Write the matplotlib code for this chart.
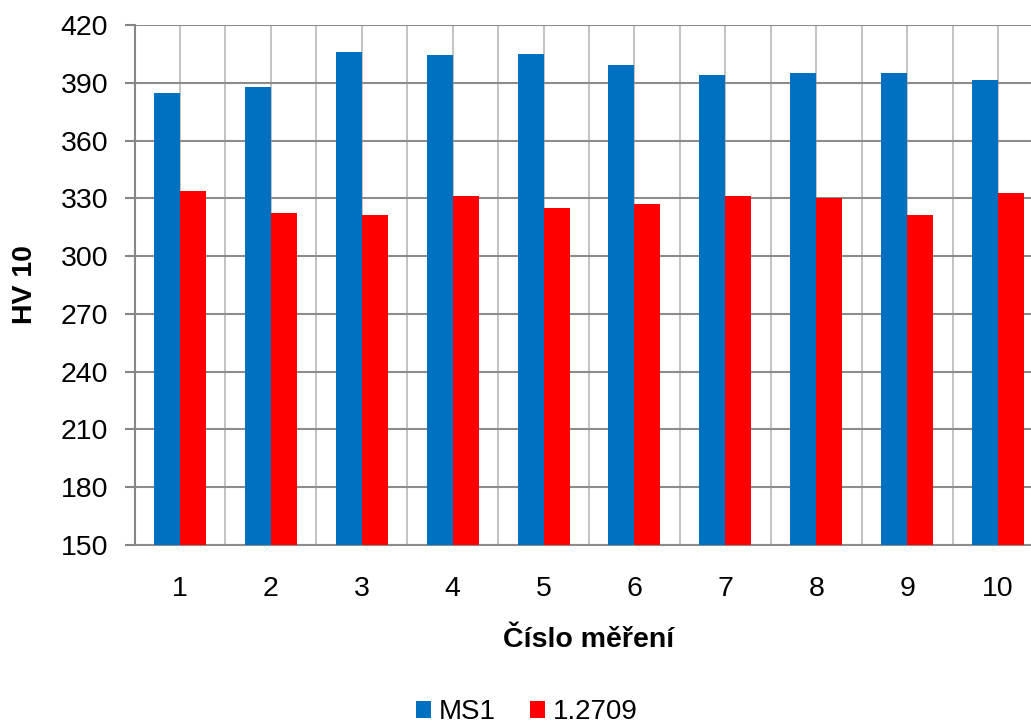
import matplotlib
matplotlib.use("Agg")
import matplotlib.pyplot as plt
import numpy as np
from matplotlib.ticker import FixedLocator

plt.rcParams['font.family'] = ['Liberation Sans', 'DejaVu Sans']

categories = ['1', '2', '3', '4', '5', '6', '7', '8', '9', '10']
ms1 = [384.5, 387.6, 405.8, 404.2, 404.8, 399.0, 393.8, 394.9, 395.0, 391.2]
steel = [334.0, 322.6, 321.6, 331.0, 325.2, 327.3, 331.0, 330.0, 321.6, 333.0]
series_names = ['MS1', '1.2709']
colors = ['#0070C0', '#FF0000']
yticks = [150, 180, 210, 240, 270, 300, 330, 360, 390, 420]

fig = plt.figure(figsize=(10.31, 7.28), dpi=100)
ax = fig.add_axes([134.6/1031, (728-545)/728, 908.8/1031, 520/728])

x = np.arange(1, len(categories) + 1)
w = 0.286
ax.bar(x - w/2, ms1, width=w, color=colors[0], label=series_names[0], zorder=3)
ax.bar(x + w/2, steel, width=w, color=colors[1], label=series_names[1], zorder=3)

ax.set_xlim(0.5, len(categories) + 0.5)
ax.set_ylim(150, 420)
ax.set_yticks(yticks)
ax.set_xticks(x)
ax.set_xticklabels(categories)
ax.xaxis.set_minor_locator(FixedLocator(np.arange(0.5, len(categories) + 1, 1.0)))

ax.grid(axis='y', which='major', color='#8c8c8c', linewidth=1.5, zorder=0)
ax.grid(axis='x', which='both', color='#bdbdbd', linewidth=1.3, zorder=0)
ax.set_axisbelow(True)

for s in ['top', 'right']:
    ax.spines[s].set_visible(False)
ax.spines['left'].set_color('#868686')
ax.spines['left'].set_linewidth(1.5)
ax.spines['bottom'].set_color('#8c8c8c')
ax.spines['bottom'].set_linewidth(1.5)

ax.tick_params(axis='y', length=7, width=1.5, color='#868686', pad=12, labelsize=20.5)
ax.tick_params(axis='x', which='both', length=0, pad=22, labelsize=20.5)

ax.set_xlabel('Číslo měření', fontsize=20.5, fontweight='bold', labelpad=18)
ax.set_ylabel('HV 10', fontsize=20.5, fontweight='bold', labelpad=16)

handles, labels = ax.get_legend_handles_labels()
fig.legend(handles, labels, loc='center', bbox_to_anchor=(0.511, 1 - 712/728),
           ncol=2, frameon=False, fontsize=20, handlelength=0.55, handleheight=0.55,
           handletextpad=0.3, columnspacing=1.2)

fig.savefig('out.png', dpi=100)
